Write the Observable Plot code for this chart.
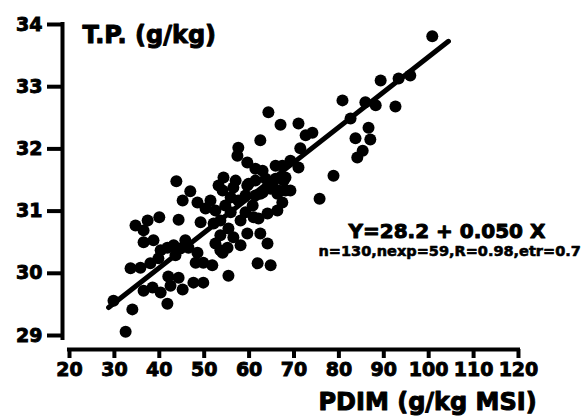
<!DOCTYPE html>
<html>
<head>
<meta charset="utf-8">
<script src="https://cdn.jsdelivr.net/npm/d3@7"></script>
<script src="https://cdn.jsdelivr.net/npm/@observablehq/plot@0.6"></script>
<style>
  html, body { margin: 0; padding: 0; background: #fff; }
  #chart svg { display: block; }
  #chart svg g[aria-label="y-axis tick"], #chart svg g[aria-label="x-axis tick"] { stroke-width: 4px; }
  #chart svg g[aria-label="y-axis tick label"], #chart svg g[aria-label="x-axis tick label"] { stroke: #000; stroke-width: 0.9px; }
</style>
</head>
<body>
<div id="chart"></div>
<script>
// PDIM (g/kg MSI) values of the observations
const pdim = [
  29.8, 32.5, 34.0, 33.6, 35.8, 38.0, 39.8, 34.7, 37.4, 40.0,
  36.5, 36.5, 38.7, 41.8, 43.2, 44.7, 46.5, 36.5, 38.5, 40.3,
  41.8, 42.0, 44.3, 42.5, 45.2, 47.6, 49.8, 51.8, 55.4, 61.9,
  64.8, 44.3, 45.2, 46.9, 48.5, 51.4, 49.2, 52.1, 53.6, 55.2,
  56.5, 58.1, 59.6, 62.5, 64.1, 61.0, 64.1, 66.3, 67.4, 58.1,
  55.9, 56.5, 59.6, 62.5, 64.8, 66.3, 53.2, 43.8, 48.5, 49.8,
  57.6, 60.8, 62.1, 53.6, 55.4, 52.5, 54.1, 64.3, 67.0, 62.5,
  57.6, 57.4, 59.6, 54.3, 57.0, 59.9, 63.0, 65.9, 68.1, 65.2,
  54.1, 63.0, 66.5, 71.0, 74.1, 72.6, 71.4, 67.4, 71.0, 67.7,
  78.8, 75.7, 80.8, 85.9, 88.2, 92.6, 82.6, 86.6, 83.7, 87.0,
  85.3, 84.1, 89.3, 93.3, 95.9, 100.8, 54.7, 52.5, 53.6, 61.4,
  63.7, 68.1, 59.2, 61.4, 40.3, 43.6, 69.2, 50.3, 55.9, 59.2,
  65.9, 69.2, 61.4, 45.8, 48.1
];
// T.P. (g/kg) values of the same observations
const tp = [
  29.56, 29.06, 29.42, 30.08, 30.09, 30.16, 30.24, 30.77, 30.85, 30.90,
  30.69, 30.50, 30.53, 30.41, 30.45, 30.40, 30.41, 29.72, 29.77, 29.69,
  29.51, 29.95, 29.93, 29.80, 29.74, 29.85, 29.85, 30.13, 29.96, 30.16,
  30.13, 30.86, 31.17, 31.32, 31.14, 31.17, 30.82, 30.80, 30.61, 30.41,
  30.58, 30.45, 30.64, 30.64, 30.48, 30.90, 30.96, 31.01, 31.14, 30.85,
  31.22, 31.38, 31.41, 31.28, 31.36, 31.28, 31.41, 31.48, 30.33, 30.17,
  31.17, 31.09, 30.88, 30.85, 30.72, 30.48, 30.33, 32.59, 32.39, 32.14,
  32.02, 31.89, 31.78, 31.54, 31.49, 31.44, 31.65, 31.73, 31.54, 31.44,
  31.33, 31.30, 31.33, 32.41, 32.26, 32.22, 32.01, 31.73, 31.70, 31.49,
  31.57, 31.20, 32.78, 32.75, 32.70, 32.68, 32.49, 32.34, 32.17, 32.15,
  31.97, 31.86, 33.10, 33.13, 33.18, 33.81, 31.09, 31.01, 30.37, 31.25,
  31.52, 31.33, 31.25, 31.49, 30.37, 30.29, 31.81, 31.04, 30.98, 30.98,
  31.52, 31.33, 31.68, 30.53, 30.17
];
// Fitted line as drawn (end points)
const fitX = [28.7, 104.4];
const fitY = [29.45, 33.73];

const xTicks = [20, 30, 40, 50, 60, 70, 80, 90, 100, 110, 120];
const yTicks = [29, 30, 31, 32, 33, 34];
const xDomain = [18.44, 120.45];
const yDomain = [28.775, 34.032];

const yTitle = ["T.P. (g/kg)"];
const xTitle = ["PDIM (g/kg MSI)"];
const eqLine1 = ["Y=28.2 + 0.050 X"];
const eqLine2 = ["n=130,nexp=59,R=0.98,etr=0.7"];

const points = pdim.map((x, i) => ({x, y: tp[i]}));
const fit = fitX.map((x, i) => ({x, y: fitY[i]}));

const font = "DejaVu Sans";
const heavy = {fontWeight: "bold", fontFamily: font, fill: "#000", stroke: "#000", textAnchor: "start", lineAnchor: "top"};

const chart = Plot.plot({
  width: 584,
  height: 419,
  marginTop: 22,
  marginBottom: 70,
  marginLeft: 62,
  marginRight: 64,
  style: {fontFamily: font, background: "#fff", color: "#000"},
  x: {domain: xDomain},
  y: {domain: yDomain},
  marks: [
    Plot.ruleX([xDomain[0]], {y1: 28.92, y2: yDomain[1], strokeWidth: 4, stroke: "#000"}),
    Plot.ruleY([yDomain[0]], {x1: 19.55, x2: xDomain[1], strokeWidth: 4, stroke: "#000"}),
    Plot.axisY({ticks: yTicks, tickSize: 15, tickPadding: 5, strokeWidth: 4, label: null,
      fontSize: 19, fontWeight: "bold", fontFamily: font, tickFormat: d => String(d)}),
    Plot.axisX({ticks: xTicks, tickSize: 9, tickPadding: 4, strokeWidth: 4, label: null,
      fontSize: 19, fontWeight: "bold", fontFamily: font, tickFormat: d => String(d)}),
    Plot.dot(points, {x: "x", y: "y", r: 6, fill: "#000", stroke: "none"}),
    Plot.line(fit, {x: "x", y: "y", stroke: "#000", strokeWidth: 5}),
    Plot.text(yTitle, {...heavy, text: d => d, frameAnchor: "top-left", dx: 20, dy: 3,
      fontSize: 24, strokeWidth: 1}),
    Plot.text(eqLine1, {...heavy, text: d => d, frameAnchor: "top-left", dx: 286, dy: 201,
      fontSize: 20, strokeWidth: 1}),
    Plot.text(eqLine2, {...heavy, text: d => d, frameAnchor: "top-left", dx: 256, dy: 223,
      fontSize: 14.5, strokeWidth: 0.6}),
    Plot.text(xTitle, {...heavy, text: d => d, frameAnchor: "bottom-left", dx: 256, dy: 43,
      fontSize: 24, strokeWidth: 1})
  ]
});
document.getElementById("chart").appendChild(chart);
</script>
</body>
</html>
